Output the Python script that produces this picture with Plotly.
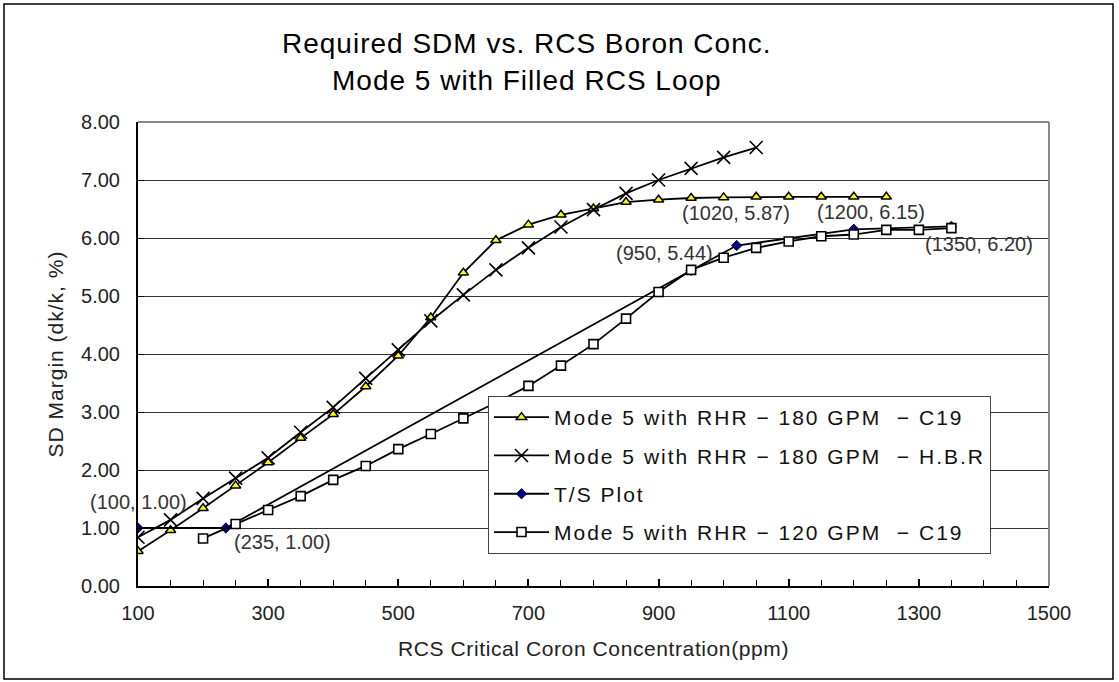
import plotly.graph_objects as go

# ---------------- data ----------------
x_c19_180 = [100, 150, 200, 250, 300, 350, 400, 450, 500, 550, 600, 650, 700, 750,
             800, 850, 900, 950, 1000, 1050, 1100, 1150, 1200, 1250]
y_c19_180 = [0.60, 0.96, 1.34, 1.73, 2.13, 2.55, 2.96, 3.44, 3.97, 4.63, 5.40, 5.96, 6.23, 6.40,
             6.51, 6.62, 6.66, 6.69, 6.70, 6.71, 6.71, 6.71, 6.71, 6.71]

x_hbr_180 = [100, 150, 200, 250, 300, 350, 400, 450, 500, 550, 600, 650, 700, 750,
             800, 850, 900, 950, 1000, 1050]
y_hbr_180 = [0.84, 1.14, 1.51, 1.86, 2.21, 2.65, 3.08, 3.58, 4.07, 4.57, 5.02, 5.45, 5.83, 6.19,
             6.49, 6.77, 7.00, 7.20, 7.39, 7.56]

x_ts = [100, 235, 950, 1020, 1200, 1350]
y_ts = [1.00, 1.00, 5.44, 5.87, 6.15, 6.20]

x_c19_120 = [200, 250, 300, 350, 400, 450, 500, 550, 600, 650, 700, 750, 800, 850,
             900, 950, 1000, 1050, 1100, 1150, 1200, 1250, 1300, 1350]
y_c19_120 = [0.82, 1.07, 1.31, 1.55, 1.83, 2.07, 2.36, 2.62, 2.89, 3.16, 3.45, 3.80, 4.17, 4.61,
             5.07, 5.45, 5.66, 5.83, 5.94, 6.03, 6.06, 6.14, 6.14, 6.17]

names = ["Mode 5 with RHR − 180 GPM  − C19",
         "Mode 5 with RHR − 180 GPM  − H.B.R",
         "T/S Plot",
         "Mode 5 with RHR − 120 GPM  − C19"]

ts_labels = ["(100, 1.00)", "(235, 1.00)", "(950, 5.44)", "(1020, 5.87)", "(1200, 6.15)", "(1350, 6.20)"]

x_tickvals = [100, 300, 500, 700, 900, 1100, 1300, 1500]
y_tickvals = [0, 1, 2, 3, 4, 5, 6, 7, 8]

FONT = "Liberation Sans"
TXT = "#222222"


def spaced(s, px):
    return '<span style="letter-spacing:%spx">%s</span>' % (px, s)


fig = go.Figure()

fig.add_trace(go.Scatter(
    x=x_c19_180, y=y_c19_180, name=spaced(names[0], 2), mode="lines+markers", legendgroup="a",
    line=dict(color="black", width=1.8),
    marker=dict(symbol="triangle-up", size=9, color="#FFFF00", line=dict(color="black", width=1.5))))
fig.add_trace(go.Scatter(
    x=x_hbr_180, y=y_hbr_180, name=spaced(names[1], 2), mode="lines+markers", legendgroup="b",
    line=dict(color="black", width=1.8),
    marker=dict(symbol="x-thin-open", size=13, color="black", line=dict(color="black", width=1.6))))
fig.add_trace(go.Scatter(
    x=x_ts, y=y_ts, name=spaced(names[2], 2), mode="lines+markers", legendgroup="c",
    line=dict(color="black", width=1.8),
    marker=dict(symbol="diamond", size=8, color="#000080", line=dict(color="black", width=0.8))))
fig.add_trace(go.Scatter(
    x=x_c19_120, y=y_c19_120, name=spaced(names[3], 2), mode="lines+markers", legendgroup="d",
    line=dict(color="black", width=1.8),
    marker=dict(symbol="square", size=9, color="white", line=dict(color="black", width=1.6))))

# data labels for T/S plot points
lab_pos = [
    dict(dx=178, dy=1.45, xa="right"),
    dict(dx=244, dy=0.76, xa="left"),
    dict(dx=986, dy=5.74, xa="right"),
    dict(dx=933, dy=6.43, xa="left"),
    dict(dx=1141, dy=6.45, xa="left"),
    dict(dx=1307, dy=5.90, xa="left"),
]
for t, p in zip(ts_labels, lab_pos):
    fig.add_annotation(x=p["dx"], y=p["dy"], text=t, showarrow=False, xanchor=p["xa"],
                       yanchor="middle", font=dict(family=FONT, size=20, color="#333333"))

# title (two lines)
fig.add_annotation(xref="paper", yref="paper", x=(527 - 138) / 911, y=(586 - 44) / 464,
                   text=spaced("Required SDM vs. RCS Boron Conc.", 1), showarrow=False,
                   xanchor="center", yanchor="middle",
                   font=dict(family=FONT, size=28, color="black"))
fig.add_annotation(xref="paper", yref="paper", x=(527 - 138) / 911, y=(586 - 80) / 464,
                   text=spaced("Mode 5 with Filled RCS Loop", 1), showarrow=False,
                   xanchor="center", yanchor="middle",
                   font=dict(family=FONT, size=28, color="black"))

# outer chart border
fig.add_shape(type="rect", xref="paper", yref="paper",
              x0=(4 - 138) / 911, x1=(1113 - 138) / 911,
              y0=(586 - 679) / 464, y1=(586 - 4) / 464,
              line=dict(color="black", width=1.5), layer="below")
# plot area top / right border (gray)
fig.add_shape(type="line", xref="paper", yref="paper", x0=0, x1=1, y0=1, y1=1,
              line=dict(color="#888888", width=2), layer="above")
fig.add_shape(type="line", xref="paper", yref="paper", x0=1, x1=1, y0=0, y1=1,
              line=dict(color="#888888", width=2), layer="above")

fig.update_layout(
    width=1119, height=682, autosize=False,
    margin=dict(l=138, r=70, t=122, b=96),
    paper_bgcolor="white", plot_bgcolor="white",
    font=dict(family=FONT, color=TXT),
    showlegend=True,
    legend=dict(x=(488 - 138) / 911, y=(586 - 396) / 464, xanchor="left", yanchor="top",
                bgcolor="white", bordercolor="#444444", borderwidth=1,
                font=dict(family=FONT, size=21, color="#111111"),
                itemwidth=55,
                traceorder="grouped", tracegroupgap=8),
)

fig.update_xaxes(
    range=[100, 1500], tickvals=x_tickvals, ticktext=[str(v) for v in x_tickvals],
    showgrid=False, zeroline=False, showline=True, linecolor="black", linewidth=2,
    ticks="inside", ticklen=7, tickcolor="black", tickwidth=1.5,
    minor=dict(dtick=50, tick0=100, ticks="inside", ticklen=6, tickcolor="black", tickwidth=1.2, showgrid=False),
    tickfont=dict(family=FONT, size=20, color="#222222"),
    title=dict(text=spaced("RCS Critical Coron Concentration(ppm)", 0.6), standoff=18,
               font=dict(family=FONT, size=21, color="#222222")),
    ticklabelstandoff=8,
)
fig.update_yaxes(
    range=[0, 8], tickvals=y_tickvals, tickformat=".2f",
    showgrid=True, gridcolor="#333333", gridwidth=1, zeroline=False,
    showline=True, linecolor="black", linewidth=2,
    ticks="inside", ticklen=6, tickcolor="black",
    tickfont=dict(family=FONT, size=20, color="#222222"),
    title=dict(text=spaced("SD Margin (dk/k, %)", 1), standoff=12,
               font=dict(family=FONT, size=21, color="#222222")),
    ticklabelstandoff=12,
)

fig.write_html("out.html")
